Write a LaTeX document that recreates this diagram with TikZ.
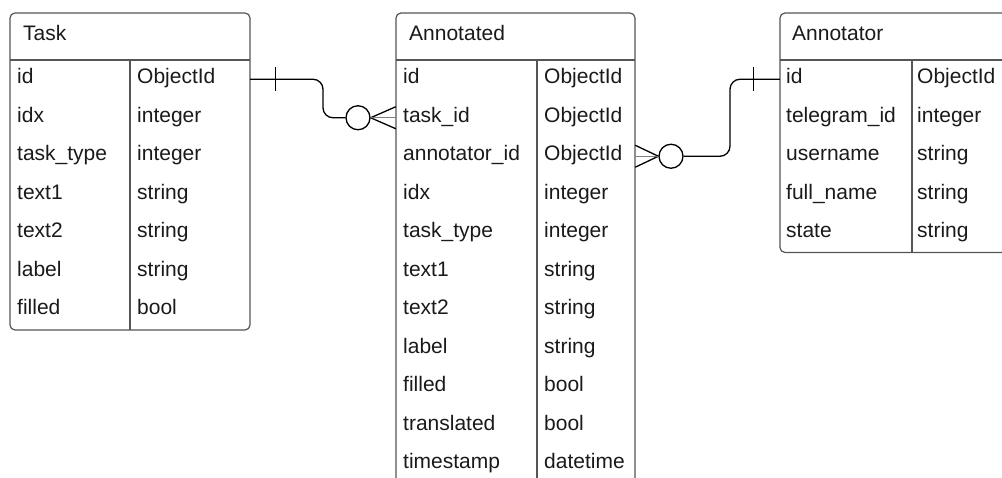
\documentclass[tikz,border=0pt]{standalone}
\usepackage{fontspec}
\setmainfont{Liberation Sans}
\usetikzlibrary{calc}
\definecolor{boxgray}{HTML}{555555}
\definecolor{txt}{HTML}{1A1A1A}
\begin{document}
\begin{tikzpicture}[x=1pt,y=-1pt,
  frame/.style={draw=boxgray, line width=1.2pt, rounded corners=5pt},
  rule/.style={draw=boxgray, line width=1.2pt},
  rowbox/.style={inner sep=0pt, minimum height=38.5pt},
  cell/.style={anchor=base west, inner sep=0pt, font=\fontsize{21}{25}\selectfont, text=txt},
  conn/.style={draw=black, line width=1.3pt},
  optcircle/.style={circle, draw=black, line width=1.3pt, minimum size=24pt, inner sep=0pt, fill=white}]
\useasboundingbox (0,0) rectangle (1002,478);
\clip (0,0) rectangle (1002,478);

% ---- Task table ----
\draw[frame] (10,13) rectangle (250,330);
\draw[rule] (10,60) -- (250,60);
\draw[rule] (130,60) -- (130,330);
\node[cell] (task-h) at (23,41) {Task};
\foreach \k/\t [count=\i] in {id/ObjectId, idx/integer, task\_type/integer, text1/string, text2/string, label/string, filled/bool} {
  \node[rowbox, minimum width=240pt] (task-r\i) at (130,{60+38.5*\i-19.25}) {};
  \node[cell] (task-k\i) at (17,{60+38.5*\i-14.75}) {\k};
  \node[cell] (task-t\i) at (137,{60+38.5*\i-14.75}) {\t};
}

% ---- Annotated table ----
\draw[frame] (396,13) rectangle (635,520);
\draw[rule] (396,60) -- (635,60);
\draw[rule] (537,60) -- (537,520);
\node[cell] (ann-h) at (409,41) {Annotated};
\foreach \k/\t [count=\i] in {id/ObjectId, task\_id/ObjectId, annotator\_id/ObjectId, idx/integer, task\_type/integer, text1/string, text2/string, label/string, filled/bool, translated/bool, timestamp/datetime} {
  \node[rowbox, minimum width=239pt] (ann-r\i) at (515.5,{60+38.5*\i-19.25}) {};
  \node[cell] (ann-k\i) at (403,{60+38.5*\i-14.75}) {\k};
  \node[cell] (ann-t\i) at (544,{60+38.5*\i-14.75}) {\t};
}

% ---- Annotator table ----
\draw[frame] (780,13) rectangle (1045,252.5);
\draw[rule] (780,60) -- (1045,60);
\draw[rule] (912,60) -- (912,252.5);
\node[cell] (user-h) at (792,41) {Annotator};
\foreach \k/\t [count=\i] in {id/ObjectId, telegram\_id/integer, username/string, full\_name/string, state/string} {
  \node[rowbox, minimum width=265pt] (user-r\i) at (912.5,{60+38.5*\i-19.25}) {};
  \node[cell] (user-k\i) at (786,{60+38.5*\i-14.75}) {\k};
  \node[cell] (user-t\i) at (917,{60+38.5*\i-14.75}) {\t};
}

% ---- Task.id (one) to Annotated.task_id (zero or many) ----
\node[optcircle] (c1) at (358,117.75) {};
\coordinate (k1) at (323,117.75);
\draw[conn, rounded corners=10pt] (task-r1.east) -| (k1) -- (c1.west);
\draw[conn] ($(task-r1.east)+(25,-12)$) -- ($(task-r1.east)+(25,12)$);
\draw[conn] (c1.east) -- ($(ann-r2.west)+(0,-11)$);
\draw[conn] (c1.east) -- ($(ann-r2.west)+(0,11)$);
\draw[conn, draw=gray] (c1.east) -- (ann-r2.west);

% ---- Annotator.id (one) to Annotated.annotator_id (zero or many) ----
\node[optcircle] (c2) at (671,156.25) {};
\coordinate (k2) at (730,79.25);
\draw[conn, rounded corners=10pt] (c2.east) -| (k2) -- (user-r1.west);
\draw[conn] ($(user-r1.west)+(-26,-12)$) -- ($(user-r1.west)+(-26,12)$);
\draw[conn] (c2.west) -- ($(ann-r3.east)+(0,-11)$);
\draw[conn] (c2.west) -- ($(ann-r3.east)+(0,11)$);
\draw[conn, draw=gray] (c2.west) -- (ann-r3.east);
\end{tikzpicture}
\end{document}
